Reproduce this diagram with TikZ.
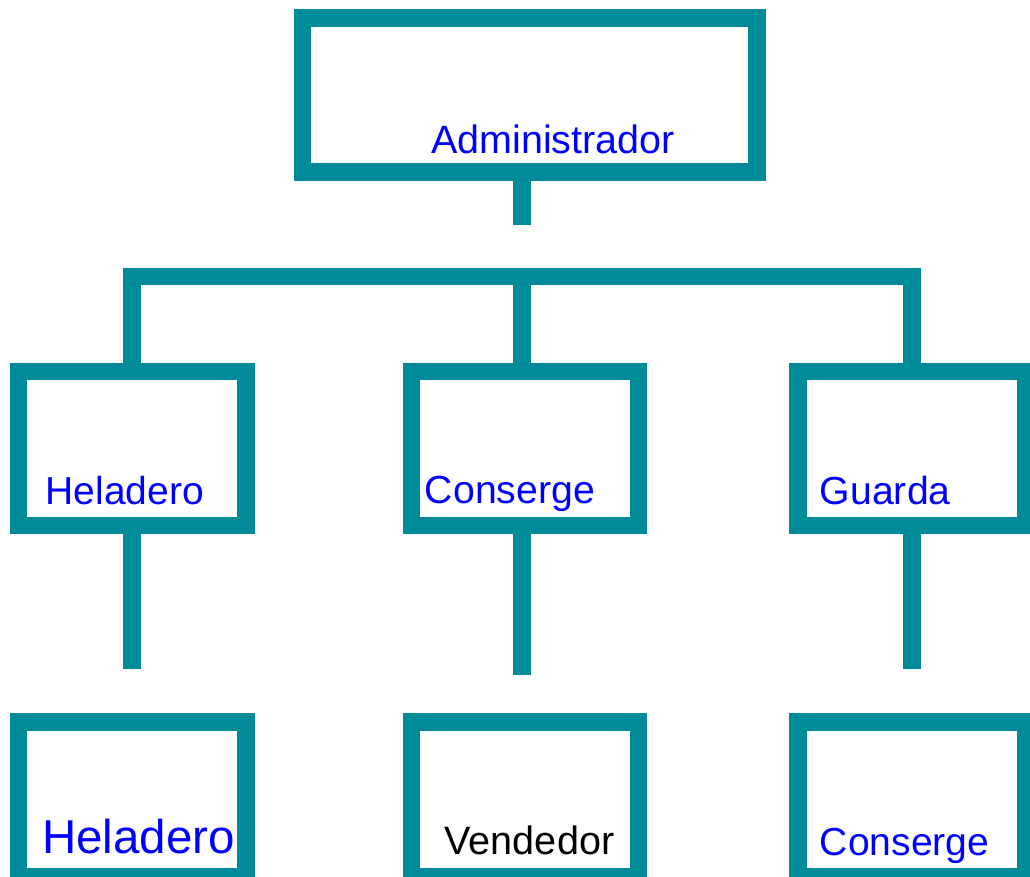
\documentclass[tikz,border=0pt]{standalone}
\usepackage{fontspec}
\setmainfont{Liberation Sans}
\definecolor{teal1}{RGB}{0,139,153}
\definecolor{txtblue}{RGB}{0,0,255}
\begin{document}
\begin{tikzpicture}[x=1pt,y=1pt,
  box/.style={draw=teal1, line width=17.5pt, rectangle, inner sep=0pt, minimum width=#1},
  box/.default=227.5pt,
  conn/.style={draw=teal1, line width=17.4pt, line cap=butt, line join=miter},
  lbl/.style={anchor=base west, inner sep=0pt, text=txtblue}]
\useasboundingbox (0,0) rectangle (1030,-877);
\clip (0,0) rectangle (1030,-877);
% boxes
\node[box=454.5pt, minimum height=154.4pt] (adm) at (529.5,-95) {};
\node[box, minimum height=154.3pt] (h1) at (132,-448.4) {};
\node[box=227pt, minimum height=154.3pt] (c1) at (525,-448.4) {};
\node[box=228pt, minimum height=154.3pt] (g1) at (911.9,-448.4) {};
\node[box, minimum height=155pt] (h2) at (132,-799.5) {};
\node[box=227pt, minimum height=155pt] (v2) at (525,-799.5) {};
\node[box=228pt, minimum height=155pt] (c2) at (911.9,-799.5) {};
% coordinates
\coordinate (barY) at (0,-276.5);
\coordinate (admEnd) at (522,-225.3);
\coordinate (hEnd) at (132,-669.3);
\coordinate (cEnd) at (522,-675);
\coordinate (gEnd) at (911.9,-669.3);
% connectors
\draw[conn] (adm.south -| admEnd) -- (admEnd);
\draw[conn] (h1.north) -- (h1.north |- barY) -- (g1.north |- barY) -- (g1.north);
\draw[conn] (c1.north -| admEnd) -- (admEnd |- barY);
\draw[conn] (h1.south) -- (hEnd);
\draw[conn] (c1.south -| cEnd) -- (cEnd);
\draw[conn] (g1.south) -- (gEnd);
% labels
\node[lbl, font=\fontsize{39.5}{47}\selectfont] (tadm) at (431,-153.7) {Administrador};
\node[lbl, font=\fontsize{39}{47}\selectfont] (th1) at (45.3,-504.3) {Heladero};
\node[lbl, font=\fontsize{39.2}{47}\selectfont] (tc1) at (424.7,-503.3) {Conserge};
\node[lbl, font=\fontsize{39.2}{47}\selectfont] (tg1) at (819.7,-504.7) {Guarda};
\node[lbl, font=\fontsize{47.5}{57}\selectfont] (th2) at (41.9,-853.3) {Heladero};
\node[lbl, font=\fontsize{39.6}{47}\selectfont, text=black] (tv2) at (444.5,-854) {Vendedor};
\node[lbl, font=\fontsize{39.1}{47}\selectfont] (tc2) at (819.7,-855) {Conserge};
\end{tikzpicture}
\end{document}
